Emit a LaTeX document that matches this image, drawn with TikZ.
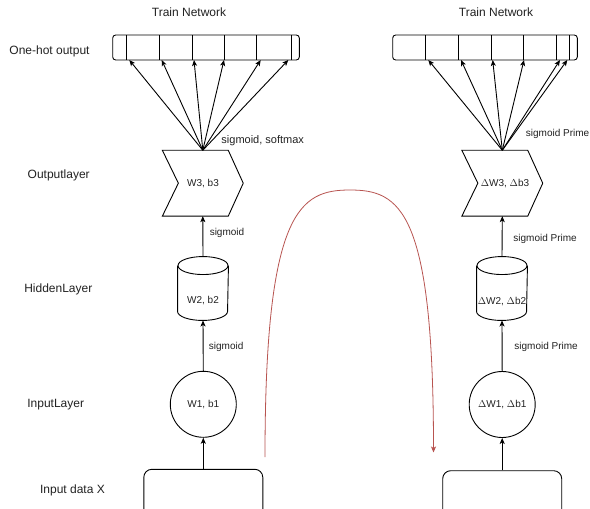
\documentclass[tikz,border=0pt]{standalone}
\usepackage{fontspec}
\setmainfont{Liberation Sans}
\usetikzlibrary{arrows.meta,calc}
\definecolor{redline}{HTML}{B85450}
\definecolor{txt}{HTML}{222222}
\begin{document}
\begin{tikzpicture}[x=1pt,y=-1pt,line width=0.9pt,
  lbl/.style={font=\fontsize{12}{14}\selectfont,text=txt,inner sep=0},
  sm/.style={font=\fontsize{10}{12}\selectfont,text=txt,inner sep=0},
  smb/.style={font=\fontsize{11}{13}\selectfont,text=txt,inner sep=0},
  arr/.style={-{Stealth[length=6pt,width=5pt,inset=1.5pt]}},
  rarr/.style={draw=redline,-{Stealth[length=6pt,width=5pt,inset=1.5pt]}},
  ohbox/.style={draw,rounded corners=3pt,inner sep=0,minimum height=25},
  chev/.style={inner sep=0,minimum width=80,minimum height=65,font=\fontsize{10}{12}\selectfont,text=txt},
  cyl/.style={inner sep=0,minimum width=50,minimum height=63},
  neuron/.style={draw,circle,inner sep=0,minimum size=66,font=\fontsize{10}{12}\selectfont,text=txt},
  inbox/.style={draw,rounded corners=8pt,inner sep=0,minimum width=119,minimum height=70}]
\clip (0,0) rectangle (590,509);
\fill[white] (0,0) rectangle (590,509);

% titles and row labels
\node[lbl] (title1) at (189,12.7) {Train Network};
\node[lbl] (title2) at (496,12.7) {Train Network};
\node[lbl] (l1) at (49.5,51.5) {One-hot output};
\node[lbl] (l2) at (58.7,175) {Outputlayer};
\node[lbl] (l3) at (58.3,289) {HiddenLayer};
\node[lbl] (l4) at (55.7,405) {InputLayer};
\node[lbl] (l5) at (72.5,490) {Input data X};

% ===== left column =====
\node[ohbox,minimum width=186.6] (oh1) at (206,47.5) {};
\foreach \xx in {126.7,159.3,192.7,224,256.7,291.7} \draw (\xx,35) -- (\xx,60);

\node[chev] (ch1) at (202.8,183.2) {};
\draw ($(ch1.north west)$) -- ($(ch1.north east)+(-15,0)$) -- (ch1.east)
  -- ($(ch1.south east)+(-15,0)$) -- (ch1.south west) -- ($(ch1.west)+(16,0)$) -- cycle;
\node[chev,minimum width=0,minimum height=0] (ch1t) at (203,183.2) {W3, b3};

\node[cyl] (cy1) at (203,288.5) {};
\draw ($(cy1.north)+(0,9)$) ellipse[x radius=25pt,y radius=9pt];
\draw ($(cy1.north west)+(0,9)$) -- ($(cy1.south west)+(0,-9)$)
  arc[start angle=180,end angle=360,x radius=25pt,y radius=9pt]
  -- ($(cy1.north east)+(0,9)$);
\node[sm] (cy1t) at (203,301) {W2, b2};

\node[neuron] (c1) at (203.3,404.3) {W1, b1};
\node[inbox] (in1) at (203.3,504.3) {};

\foreach \n/\xx in {a/129.3,b/161.7,c/194,d/224,e/260.7,f/288.3} \coordinate (t1\n) at (\xx,60);
\foreach \n in {a,b,c,d,e,f} \draw[arr] (ch1.north) -- (t1\n);
\draw[arr] (cy1.north) -- (ch1.south);
\draw[arr] (c1.north) -- (cy1.south);
\draw[arr] (in1.north) -- (c1.south);

\node[smb,anchor=west] (s1) at (221,141) {sigmoid, softmax};
\node[sm,anchor=west] (s2) at (209.3,233.3) {sigmoid};
\node[sm,anchor=west] (s3) at (208.5,346.5) {sigmoid};

% ===== right column =====
\node[ohbox,minimum width=184.6] (oh2) at (485,47.5) {};
\foreach \xx in {425,458.3,491.7,523.3,556,569.3} \draw (\xx,35) -- (\xx,60);

\node[chev] (ch2) at (502.3,183.2) {};
\draw ($(ch2.north west)$) -- ($(ch2.north east)+(-15,0)$) -- (ch2.east)
  -- ($(ch2.south east)+(-15,0)$) -- (ch2.south west) -- ($(ch2.west)+(16,0)$) -- cycle;
\node[chev,minimum width=0,minimum height=0] (ch2t) at (505,183.2) {$\Delta$W3, $\Delta$b3};

\node[cyl] (cy2) at (502,288.5) {};
\draw ($(cy2.north)+(0,9)$) ellipse[x radius=25pt,y radius=9pt];
\draw ($(cy2.north west)+(0,9)$) -- ($(cy2.south west)+(0,-9)$)
  arc[start angle=180,end angle=360,x radius=25pt,y radius=9pt]
  -- ($(cy2.north east)+(0,9)$);
\node[sm] (cy2t) at (502,302) {$\Delta$W2, $\Delta$b2};

\node[neuron] (c2) at (502.2,404.5) {$\Delta$W1, $\Delta$b1};
\node[inbox] (in2) at (502.2,505.7) {};

\foreach \n/\xx in {a/428.3,b/461,c/492.7,d/524,e/560,f/567.3} \coordinate (t2\n) at (\xx,60);
\foreach \n in {a,b,c,d,e,f} \draw[arr] (ch2.north) -- (t2\n);
\draw[arr] (cy2.north) -- (ch2.south);
\draw[arr] (c2.north) -- (cy2.south);
\draw[arr] (in2.north) -- (c2.south);

\node[sm,anchor=west] (r1) at (525.5,134.3) {sigmoid Prime};
\node[sm,anchor=west] (r2) at (513,239.3) {sigmoid Prime};
\node[sm,anchor=west] (r3) at (514,347) {sigmoid Prime};

% ===== red curve =====
\coordinate (rs) at (265,457);
\coordinate (re) at (433.5,452.5);
\draw[rarr,line width=0.8pt] (rs) .. controls (265,210) and (300,190) .. (350,190)
  .. controls (400,190) and (433.5,210) .. (re);
\end{tikzpicture}
\end{document}
